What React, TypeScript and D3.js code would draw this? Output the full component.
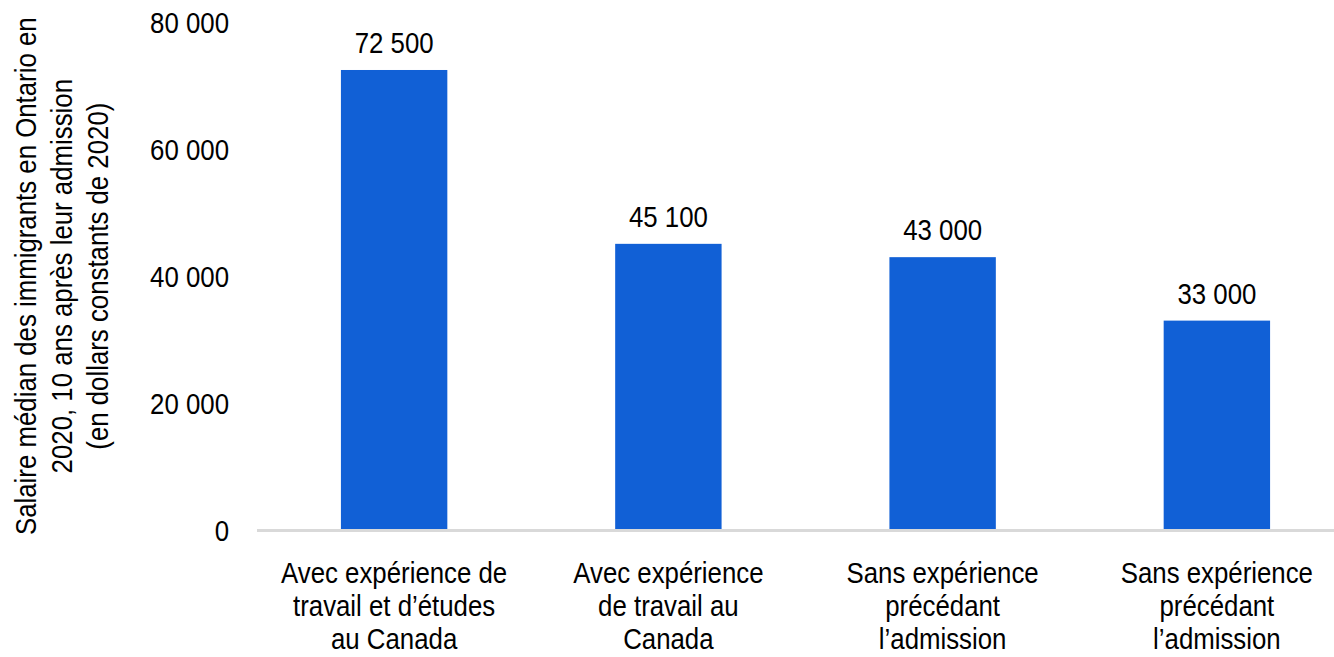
import React from "react";
import * as d3 from "d3";

const categories: string[][] = [
  ["Avec expérience de", "travail et d’études", "au Canada"],
  ["Avec expérience", "de travail au", "Canada"],
  ["Sans expérience", "précédant", "l’admission"],
  ["Sans expérience", "précédant", "l’admission"],
];
const values: number[] = [72500, 45100, 43000, 33000];
const valueLabels: string[] = ["72 500", "45 100", "43 000", "33 000"];
const yTicks: number[] = [0, 20000, 40000, 60000, 80000];
const yTickLabels: string[] = ["0", "20 000", "40 000", "60 000", "80 000"];
const yTitle: string[] = [
  "Salaire médian des immigrants en Ontario en",
  "2020, 10 ans après leur admission",
  "(en dollars constants de 2020)",
];

const W = 1334;
const H = 657;
const FONT = "'Liberation Sans', Arial, sans-serif";
const FS = 29;
const SX = 0.89;

function T({ x, y, anchor, children }: { x: number; y: number; anchor: string; children: React.ReactNode }) {
  return (
    <g transform={`translate(${x},${y}) scale(${SX},1)`}>
      <text x={0} y={0} textAnchor={anchor} fontSize={FS} fill="#000">
        {children}
      </text>
    </g>
  );
}

export default function App() {
  const x = d3
    .scaleBand<number>()
    .domain(d3.range(values.length))
    .range([257, 1354])
    .paddingInner(0.612)
    .paddingOuter(0.306);
  const y = d3.scaleLinear().domain([0, 80000]).range([530, 22.4]);

  return (
    <svg
      width={W}
      height={H}
      style={{ position: "absolute", left: 0, top: 0, background: "#fff" }}
      fontFamily={FONT}
    >
      {/* y axis title */}
      <g transform={`translate(0, ${(y(0) + y(80000)) / 2}) rotate(-90)`}>
        {yTitle.map((t, i) => (
          <T key={i} x={0} y={36 + i * 36} anchor="middle">
            {t}
          </T>
        ))}
      </g>
      {/* y ticks */}
      {yTicks.map((v, i) => (
        <T key={v} x={229} y={y(v) + 10.5} anchor="end">
          {yTickLabels[i]}
        </T>
      ))}
      {/* bars */}
      {values.map((v, i) => (
        <rect
          key={i}
          x={x(i)!}
          y={y(v)}
          width={x.bandwidth()}
          height={y(0) - y(v) - 1}
          fill="#1160d6"
        />
      ))}
      {/* baseline */}
      <line x1={257} x2={W} y1={y(0) + 0.5} y2={y(0) + 0.5} stroke="#d9d9d9" strokeWidth={3} />
      {/* value labels */}
      {values.map((v, i) => (
        <T key={i} x={x(i)! + x.bandwidth() / 2} y={y(v) - 17} anchor="middle">
          {valueLabels[i]}
        </T>
      ))}
      {/* category labels */}
      {categories.map((lines, i) =>
        lines.map((l, j) => (
          <T key={`${i}-${j}`} x={x(i)! + x.bandwidth() / 2} y={583 + j * 33} anchor="middle">
            {l}
          </T>
        ))
      )}
    </svg>
  );
}
